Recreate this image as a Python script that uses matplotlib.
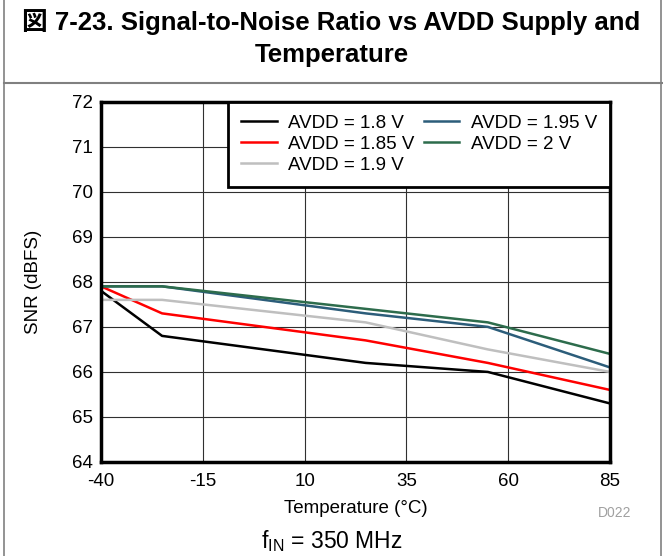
import matplotlib.pyplot as plt
from matplotlib.lines import Line2D

plt.rcParams['font.family'] = ['Liberation Sans', 'Noto Sans CJK JP', 'DejaVu Sans']
plt.rcParams['axes.unicode_minus'] = False

# data
temps = [-40, -25, 25, 55, 85]
snr_180 = [67.8, 66.8, 66.2, 66.0, 65.3]
snr_185 = [67.9, 67.3, 66.7, 66.2, 65.6]
snr_190 = [67.6, 67.6, 67.1, 66.5, 66.0]
snr_195 = [67.9, 67.9, 67.3, 67.0, 66.1]
snr_200 = [67.9, 67.9, 67.4, 67.1, 66.4]

labels = ['AVDD = 1.8 V', 'AVDD = 1.85 V', 'AVDD = 1.9 V', 'AVDD = 1.95 V', 'AVDD = 2 V']
colors = ['black', '#ff0000', '#bfbfbf', '#2c5d7a', '#2d6c4c']

x_ticks = [-40, -15, 10, 35, 60, 85]
y_ticks = [64, 65, 66, 67, 68, 69, 70, 71, 72]

fig = plt.figure(figsize=(6.63, 5.56), dpi=100)

# ---- frame + title band ----
fig.add_artist(Line2D([4 / 663, 4 / 663], [0, 1], color='#808080', lw=1.2))
fig.add_artist(Line2D([661 / 663, 661 / 663], [0, 1], color='#808080', lw=1.2))
fig.add_artist(Line2D([4 / 663, 1], [1 - 83 / 556, 1 - 83 / 556], color='#808080', lw=1.5))
fig.text(0.5, 1 - 22 / 556, '図 7-23. Signal-to-Noise Ratio vs AVDD Supply and',
         ha='center', va='center', fontsize=18.5, fontweight='bold')
fig.text(0.5, 1 - 55 / 556, 'Temperature',
         ha='center', va='center', fontsize=18.5, fontweight='bold')

# ---- plot ----
ax = fig.add_axes([101 / 663, 94 / 556, 509 / 663, 360.3 / 556])
series = [snr_180, snr_185, snr_190, snr_195, snr_200]
for s, lab, c in zip(series, labels, colors):
    ax.plot(temps, s, color=c, lw=1.8, label=lab)

ax.set_xlim(-40, 85)
ax.set_ylim(64, 72)
ax.set_xticks(x_ticks)
ax.set_yticks(y_ticks)
ax.grid(True, color='#303030', lw=0.8)
ax.tick_params(length=0, labelsize=13.5)
ax.tick_params(axis='x', pad=8)
ax.tick_params(axis='y', pad=6)
for sp in ax.spines.values():
    sp.set_linewidth(2.5)

ax.set_xlabel('Temperature (°C)', fontsize=13.5, labelpad=7)
ax.set_ylabel('SNR (dBFS)', fontsize=13.5, labelpad=21)

handles, labs = ax.get_legend_handles_labels()
leg = ax.legend(handles, labs, ncol=2, loc='upper right', fontsize=13.5,
                frameon=True, fancybox=False, framealpha=1, edgecolor='black',
                borderaxespad=0, handlelength=1.9, columnspacing=0.5,
                labelspacing=0.2, handletextpad=0.6, borderpad=0.7)
leg.get_frame().set_linewidth(2)

fig.text(615 / 663, 1 - 513 / 556, 'D022', ha='center', va='center',
         fontsize=10, color='#a0a0a0')
fig.text(0.5, 1 - 541 / 556, r'f$_{\mathregular{IN}}$ = 350 MHz', ha='center',
         va='center', fontsize=16.5)

fig.savefig('out.png', dpi=100)
